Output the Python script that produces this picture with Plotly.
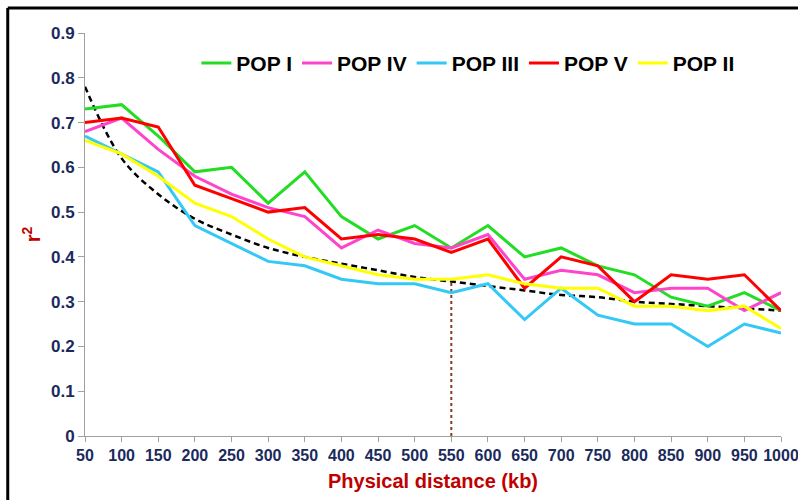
import plotly.graph_objects as go

distance = [50, 100, 150, 200, 250, 300, 350, 400, 450, 500,
            550, 600, 650, 700, 750, 800, 850, 900, 950, 1000]

pop_i = [0.73, 0.74, 0.67, 0.59, 0.60, 0.52, 0.59, 0.49, 0.44, 0.47,
         0.42, 0.47, 0.40, 0.42, 0.38, 0.36, 0.31, 0.29, 0.32, 0.28]
pop_iv = [0.68, 0.71, 0.64, 0.58, 0.54, 0.51, 0.49, 0.42, 0.46, 0.43,
          0.42, 0.45, 0.35, 0.37, 0.36, 0.32, 0.33, 0.33, 0.28, 0.32]
pop_iii = [0.67, 0.63, 0.59, 0.47, 0.43, 0.39, 0.38, 0.35, 0.34, 0.34,
           0.32, 0.34, 0.26, 0.33, 0.27, 0.25, 0.25, 0.20, 0.25, 0.23]
pop_v = [0.70, 0.71, 0.69, 0.56, 0.53, 0.50, 0.51, 0.44, 0.45, 0.44,
         0.41, 0.44, 0.33, 0.40, 0.38, 0.30, 0.36, 0.35, 0.36, 0.28]
pop_ii = [0.66, 0.63, 0.58, 0.52, 0.49, 0.44, 0.40, 0.38, 0.36, 0.35,
          0.35, 0.36, 0.34, 0.33, 0.33, 0.29, 0.29, 0.28, 0.29, 0.24]
trend = [0.78, 0.62, 0.54, 0.485, 0.45, 0.42, 0.40, 0.385, 0.37, 0.355,
         0.345, 0.335, 0.325, 0.315, 0.31, 0.30, 0.295, 0.29, 0.285, 0.28]

marker_x = [550, 550]
marker_y = [0, 0.345]

series = [
    ("POP I", pop_i, "#22DD22"),
    ("POP IV", pop_iv, "#FF44CC"),
    ("POP III", pop_iii, "#33C8F5"),
    ("POP V", pop_v, "#FF0000"),
    ("POP II", pop_ii, "#FFFF00"),
]

fig = go.Figure()
fig.add_trace(go.Scatter(x=distance, y=trend, mode="lines", showlegend=False,
                         line=dict(color="black", width=2.5, dash="6px,4px", shape="spline"),
                         hoverinfo="skip"))
fig.add_trace(go.Scatter(x=marker_x, y=marker_y, mode="lines", showlegend=False,
                         line=dict(color="#8B3A1A", width=2, dash="dot")))
for name, vals, col in series:
    fig.add_trace(go.Scatter(x=distance, y=vals, mode="lines", name=f"<b>{name}</b>",
                             line=dict(color=col, width=3)))

FONT = "Liberation Sans, Arial"
tick_font = dict(family=FONT, size=16, color="#1B2A5C")
fig.update_layout(
    width=798, height=500,
    margin=dict(l=85, r=17, t=33, b=64),
    paper_bgcolor="white", plot_bgcolor="white",
    font=dict(family=FONT),
    legend=dict(orientation="h", x=0.16, y=0.925, xanchor="left", yanchor="middle",
                font=dict(size=21, color="black", family=FONT),
                bgcolor="rgba(0,0,0,0)", itemwidth=30, tracegroupgap=0),
    xaxis=dict(range=[50, 1000], tickvals=distance, ticktext=[f"<b>{d}</b>" for d in distance],
               automargin=False, ticklabeloverflow="allow",
               showgrid=False, zeroline=False, showline=True, linecolor="#A0A0A0", linewidth=1,
               ticks="outside", ticklen=5, tickcolor="#A0A0A0", tickfont=tick_font,
               title=dict(text="<b>Physical distance (kb)</b>", standoff=10,
                          font=dict(size=20, color="#C00000", family=FONT))),
    yaxis=dict(range=[0, 0.9], tickvals=[0, 0.1, 0.2, 0.3, 0.4, 0.5, 0.6, 0.7, 0.8, 0.9],
               ticktext=["<b>0</b>"] + [f"<b>{v/10:.1f}</b>" for v in range(1, 10)],
               automargin=False,
               showgrid=False, zeroline=False, showline=True, linecolor="#A0A0A0", linewidth=1,
               ticks="outside", ticklen=6, tickcolor="#A0A0A0", tickfont=dict(tick_font, size=17),
               title=dict(text="<b>r<sup>2</sup></b>", standoff=4,
                          font=dict(size=20, color="#C00000", family=FONT))),
    shapes=[
        dict(type="line", xref="paper", yref="paper", x0=-0.111, x1=1.1, y0=1.062, y1=1.062,
             line=dict(color="black", width=3)),
        dict(type="line", xref="paper", yref="paper", x0=-0.111, x1=-0.111, y0=1.062, y1=-0.2,
             line=dict(color="black", width=3)),
    ],
)

fig.write_html("out.html")
